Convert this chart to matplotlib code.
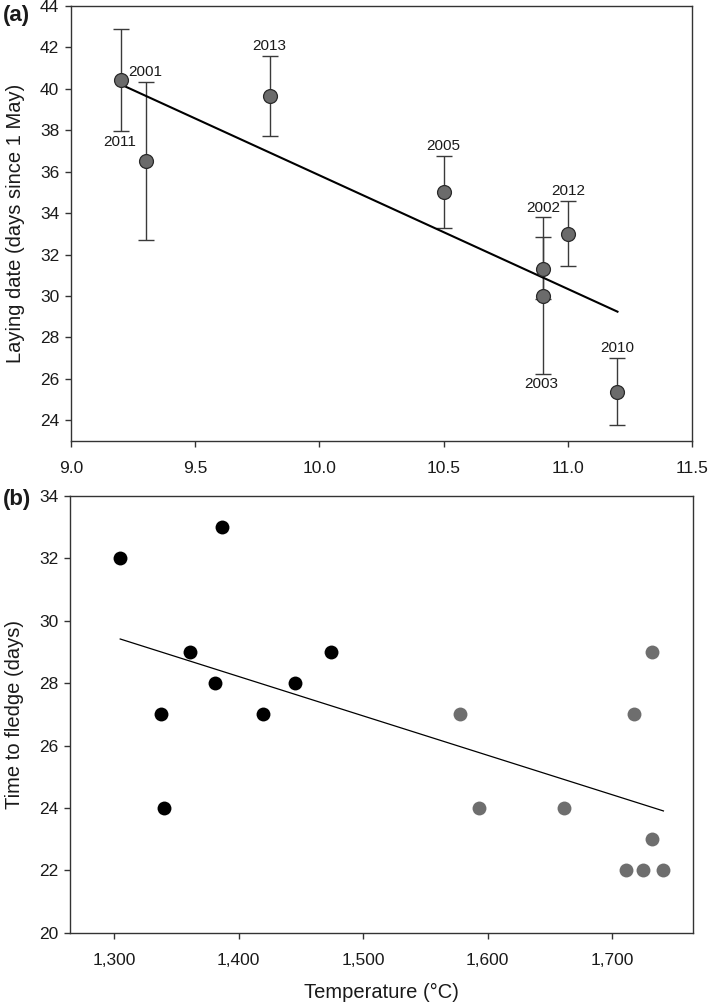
import numpy as np
import matplotlib
matplotlib.use("Agg")
import matplotlib.pyplot as plt

plt.rcParams['font.family'] = ['Liberation Sans', 'DejaVu Sans']

# ---- Panel (a) data ----
years_a = ['2011', '2001', '2013', '2005', '2002', '2003', '2012', '2010']
temp_a = [9.2, 9.3, 9.8, 10.5, 10.9, 10.9, 11.0, 11.2]
laying = [40.45, 36.5, 39.65, 35.0, 31.3, 30.0, 33.0, 25.35]
laying_upper = [42.9, 40.35, 41.6, 36.75, 33.8, 32.85, 34.6, 27.0]
laying_lower = [37.95, 32.7, 37.7, 33.3, 29.85, 26.25, 31.45, 23.75]
label_side = ['below', 'above', 'above', 'above', 'above', 'below', 'above', 'above']

# ---- Panel (b) data ----
temp_black = [1305, 1387, 1338, 1361, 1381, 1420, 1445, 1474, 1340]
fledge_black = [32, 33, 27, 29, 28, 27, 28, 29, 24]
temp_gray = [1732, 1717, 1578, 1593, 1661, 1732, 1711, 1725, 1741]
fledge_gray = [29, 27, 27, 24, 24, 23, 22, 22, 22]

xticks_a = [9.0, 9.5, 10.0, 10.5, 11.0, 11.5]
yticks_a = [24, 26, 28, 30, 32, 34, 36, 38, 40, 42, 44]
xticks_b = [1300, 1400, 1500, 1600, 1700]
xticklabels_b = ['1,300', '1,400', '1,500', '1,600', '1,700']
yticks_b = [20, 22, 24, 26, 28, 30, 32, 34]

W, H = 709, 1005
fig = plt.figure(figsize=(W / 100, H / 100), dpi=100)

spine_col = '#333333'
text_col = '#1a1a1a'


def style_axes(ax):
    for s in ax.spines.values():
        s.set_color(spine_col)
        s.set_linewidth(1.0)
    ax.tick_params(axis='both', which='major', direction='out', length=4.5,
                   width=1.0, color=spine_col, labelsize=12.5, labelcolor=text_col)
    ax.tick_params(top=False, right=False)
    ax.tick_params(axis='x', pad=10)
    ax.tick_params(axis='y', pad=4)


# Panel (a)
axa = fig.add_axes([71 / W, 1 - 441 / H, (692 - 71) / W, (441 - 6) / H])
ta = np.array(temp_a)
la = np.array(laying)
yerr = [la - np.array(laying_lower), np.array(laying_upper) - la]
axa.errorbar(ta, la, yerr=yerr, fmt='none', ecolor='#3a3a3a', elinewidth=1.0,
             capsize=6, capthick=1.0, zorder=2)
coef_a = np.polyfit(ta, la, 1)
xfit_a = np.array([ta.min(), ta.max()])
axa.plot(xfit_a, np.polyval(coef_a, xfit_a), color='black', lw=1.5, zorder=3)
axa.plot(ta, la, 'o', ms=10, mfc='#6b6b6b', mec='#2a2a2a', mew=0.9, zorder=4)
for x, yl, yu, lab, side in zip(temp_a, laying_lower, laying_upper, years_a, label_side):
    if side == 'above':
        axa.annotate(lab, (x, yu), xytext=(0, 7), textcoords='offset points',
                     ha='center', va='center', fontsize=11, color=text_col)
    else:
        axa.annotate(lab, (x, yl), xytext=(-1, -7.5), textcoords='offset points',
                     ha='center', va='center', fontsize=11, color=text_col)
axa.set_xlim(9.0, 11.5)
axa.set_ylim(23, 44)
axa.set_xticks(xticks_a)
axa.set_xticklabels([f'{v:.1f}' for v in xticks_a])
axa.set_yticks(yticks_a)
style_axes(axa)
axa.set_ylabel('Laying date (days since 1 May)', fontsize=14.5, color=text_col, labelpad=11)
fig.text(3 / W, 1 - 15 / H, '(a)', fontsize=16, fontweight='bold', ha='left', va='center',
         color=text_col)

# Panel (b)
axb = fig.add_axes([70 / W, 1 - 932.7 / H, (692.7 - 70) / W, (932.7 - 496) / H])
axb.plot(temp_black, fledge_black, 'o', ms=10, mfc='black', mec='black', mew=0, zorder=3)
axb.plot(temp_gray, fledge_gray, 'o', ms=10, mfc='#6e6e6e', mec='#6e6e6e', mew=0, zorder=3)
all_t = np.array(temp_black + temp_gray)
all_f = np.array(fledge_black + fledge_gray)
coef_b = np.polyfit(all_t, all_f, 1)
xfit_b = np.array([all_t.min(), all_t.max()])
axb.plot(xfit_b, np.polyval(coef_b, xfit_b), color='black', lw=0.9, zorder=2)
axb.set_xlim(1264.7, 1764.5)
axb.set_ylim(20, 34)
axb.set_xticks(xticks_b)
axb.set_xticklabels(xticklabels_b)
axb.set_yticks(yticks_b)
style_axes(axb)
axb.set_ylabel('Time to fledge (days)', fontsize=14.5, color=text_col, labelpad=11)
axb.set_xlabel('Temperature (°C)', fontsize=14.5, color=text_col, labelpad=11)
fig.text(3 / W, 1 - 499 / H, '(b)', fontsize=16, fontweight='bold', ha='left', va='center',
         color=text_col)

fig.savefig('out.png', dpi=100)
